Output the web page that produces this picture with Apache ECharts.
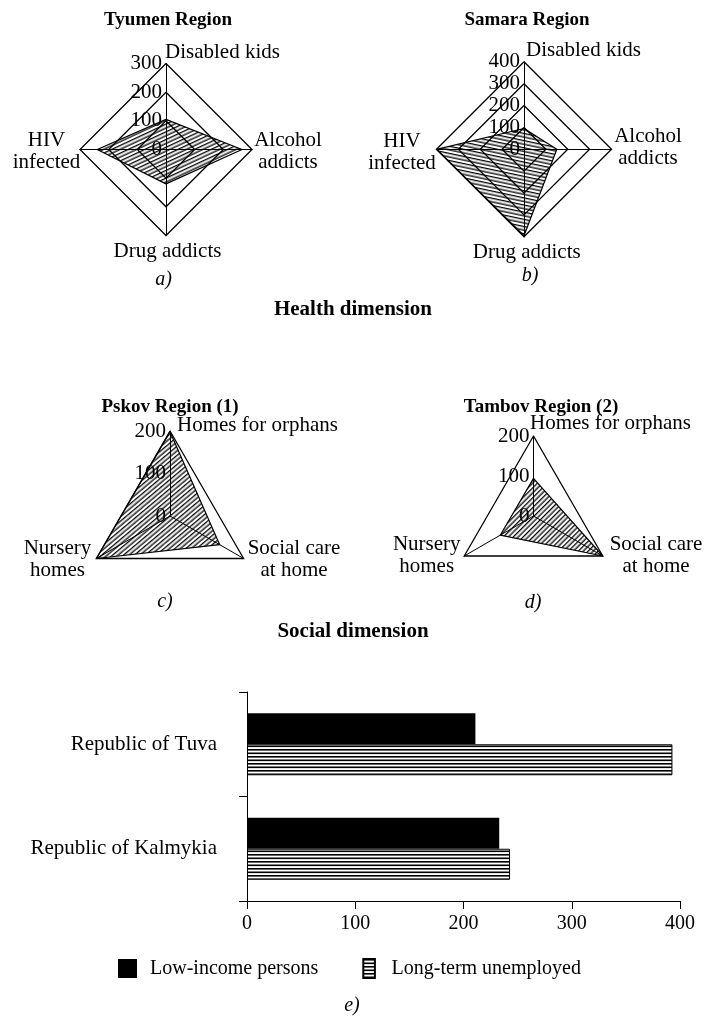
<!DOCTYPE html>
<html>
<head>
<meta charset="utf-8">
<script src="https://cdn.jsdelivr.net/npm/echarts@6/dist/echarts.min.js"></script>
<style>
html,body{margin:0;padding:0;background:#fff;}
#c{width:705px;height:1022px;}
</style>
</head>
<body>
<div id="c"></div>
<script>
// ---- DATA ----
// Radar axes listed in ECharts order (top, then counter-clockwise)
const healthAxes = ['Disabled kids', 'HIV infected', 'Drug addicts', 'Alcohol addicts'];
const tyumenValues = [105, 240, 120, 265];
const samaraValues = [95, 400, 395, 150];
const tyumenMax = 300;
const samaraMax = 400;

const socialAxes = ['Homes for orphans', 'Nursery homes', 'Social care at home'];
const pskovValues = [198, 200, 135];
const tambovValues = [94, 96, 200];
const socialMax = 200;

const barCategories = ['Republic of Tuva', 'Republic of Kalmykia'];
const lowIncome = [211, 233];
const longTermUnemployed = [393, 243];
const barSeriesNames = ['Low-income persons', 'Long-term unemployed'];

// ---- STYLE HELPERS ----
const SERIF = '"Liberation Serif", "Times New Roman", serif';
function hatch(tileH, offsets, thick, bg, rotDeg) {
  const c = document.createElement('canvas');
  c.width = 16; c.height = tileH;
  const g = c.getContext('2d');
  if (bg) { g.fillStyle = bg; g.fillRect(0, 0, 16, tileH); }
  g.fillStyle = '#000';
  offsets.forEach(o => g.fillRect(0, o, 16, thick));
  return { image: c, repeat: 'repeat', rotation: rotDeg * Math.PI / 180 };
}

function radarCfg(names, max, center, radius, ringColors) {
  return {
    center: center,
    radius: radius,
    startAngle: 90,
    shape: 'polygon',
    splitNumber: max / 100,
    z: 5,
    indicator: names.map((n, i) => {
      const o = { name: n, min: 0, max: max };
      if (i === 0) o.axisLabel = { show: true };
      return o;
    }),
    axisName: { show: false },
    axisLine: { lineStyle: { color: '#000', width: 1 } },
    splitLine: { lineStyle: { color: ringColors, width: 1.3 } },
    splitArea: { show: false },
    axisTick: { show: false },
    axisLabel: { show: false, color: '#000', fontFamily: SERIF, fontSize: 21, margin: 4 }
  };
}

function radarSeries(idx, values, pattern) {
  return {
    type: 'radar', radarIndex: idx, z: 1, symbol: 'none', silent: true,
    lineStyle: { color: '#000', width: 1.2 },
    areaStyle: { color: pattern, opacity: 1 },
    data: [{ value: values }]
  };
}

function txt(text, x, y, opts) {
  return {
    type: 'text', silent: true,
    style: Object.assign({
      text: text, x: x, y: y, fill: '#000',
      font: '21px ' + SERIF, textAlign: 'center', textVerticalAlign: 'middle', lineHeight: 22
    }, opts || {})
  };
}
const BOLD = 'bold 19px ' + SERIF;
const HEAD = 'bold 21px ' + SERIF;
const ITAL = 'italic 20px ' + SERIF;

const chart = echarts.init(document.getElementById('c'), null, { renderer: 'canvas' });

const option = {
  animation: false,
  backgroundColor: '#fff',
  radar: [
    radarCfg(healthAxes, tyumenMax, [166, 149.5], 86, '#000'),
    radarCfg(healthAxes, samaraMax, [524, 149.3], 87.5, '#000'),
    radarCfg(socialAxes, socialMax, [170, 516], 85, ['#000', 'rgba(0,0,0,0)', '#000']),
    radarCfg(socialAxes, socialMax, [533.5, 516], 80, ['#000', 'rgba(0,0,0,0)', '#000'])
  ],
  grid: { left: 247, top: 692, width: 433, height: 209, containLabel: false },
  xAxis: {
    type: 'value', min: 0, max: 400, interval: 100,
    axisLine: { show: true, lineStyle: { color: '#000', width: 1 } },
    axisTick: { show: true, length: 8, lineStyle: { color: '#000' } },
    splitLine: { show: false },
    axisLabel: { color: '#000', fontFamily: SERIF, fontSize: 20, margin: 13 }
  },
  yAxis: {
    type: 'category', data: barCategories, inverse: true,
    axisLine: { show: true, lineStyle: { color: '#000', width: 1 } },
    axisTick: { show: true, length: 8, lineStyle: { color: '#000' } },
    axisLabel: { color: '#000', fontFamily: SERIF, fontSize: 21, margin: 30 }
  },
  legend: {
    left: 118, top: 958, padding: 0, itemWidth: 19, itemHeight: 19, itemGap: 44,
    selectedMode: false,
    textStyle: { color: '#000', fontFamily: SERIF, fontSize: 20, padding: [0, 0, 0, 8] },
    data: [
      { name: barSeriesNames[0], icon: 'rect' },
      { name: barSeriesNames[1], icon: 'path://M0,0h11v18h-11z' }
    ]
  },
  series: [
    radarSeries(0, tyumenValues, hatch(7, [0, 3.5], 1.3, null, -25)),
    radarSeries(1, samaraValues, hatch(7, [0, 3.5], 1.3, null, 12)),
    radarSeries(2, pskovValues, hatch(7, [0, 3.5], 1.3, null, -40)),
    radarSeries(3, tambovValues, hatch(7, [0, 3.5], 1.3, null, -45)),
    {
      type: 'bar', name: barSeriesNames[0], data: lowIncome, barWidth: 31, barGap: '0%',
      itemStyle: { color: '#000' }
    },
    {
      type: 'bar', name: barSeriesNames[1], data: longTermUnemployed, barWidth: 31, barGap: '0%',
      itemStyle: { color: hatch(7, [0, 3.5], 1.6, '#fff', 0), borderColor: '#000', borderWidth: 1 }
    }
  ],
  graphic: [
    txt('Tyumen Region', 168, 20, { font: BOLD }),
    txt('Samara Region', 527, 20, { font: BOLD }),
    txt('Disabled kids', 165, 52, { textAlign: 'left' }),
    txt('Alcohol\naddicts', 288, 151),
    txt('Drug addicts', 167.5, 251),
    txt('HIV\ninfected', 46.5, 151),
    txt('a)', 163.5, 280, { font: ITAL }),
    txt('Disabled kids', 526, 50, { textAlign: 'left' }),
    txt('Alcohol\naddicts', 648, 147),
    txt('Drug addicts', 526.7, 252),
    txt('HIV\ninfected', 402, 152),
    txt('b)', 530, 276, { font: ITAL }),
    txt('Health dimension', 353, 310, { font: HEAD }),
    txt('Pskov Region (1)', 170, 407, { font: BOLD }),
    txt('Tambov Region (2)', 541, 407, { font: BOLD }),
    txt('Homes for orphans', 177, 425, { textAlign: 'left' }),
    txt('Nursery\nhomes', 57.5, 559),
    txt('Social care\nat home', 294, 559),
    txt('c)', 165, 602, { font: ITAL }),
    txt('Homes for orphans', 530, 423, { textAlign: 'left' }),
    txt('Nursery\nhomes', 426.7, 555),
    txt('Social care\nat home', 656, 555),
    txt('d)', 533, 603, { font: ITAL }),
    txt('Social dimension', 353, 632, { font: HEAD }),
    txt('e)', 352, 1006, { font: ITAL })
  ]
};
chart.setOption(option);
</script>
</body>
</html>
